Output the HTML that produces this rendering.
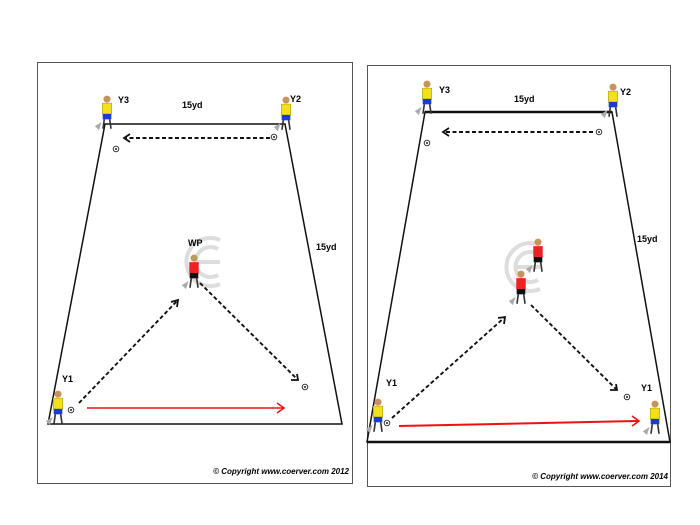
<!DOCTYPE html>
<html><head><style>
html,body{margin:0;padding:0;background:#fff;width:700px;height:525px;overflow:hidden}
svg text{font-family:"Liberation Sans",sans-serif;font-weight:bold}
</style></head><body>
<svg width="700" height="525" viewBox="0 0 700 525" xmlns="http://www.w3.org/2000/svg">
<defs>
<g id="yp0">
 <circle cx="0" cy="-14" r="2.6" fill="#c8935a"/>
 <rect x="-3.5" y="-11" width="7" height="8" fill="#f2e01a" stroke="#a89a10" stroke-width="0.4"/>
 <rect x="-3.2" y="-3" width="6.4" height="4" fill="#1a3bd6"/>
 <line x1="-2" y1="1" x2="-3" y2="8" stroke="#333" stroke-width="1.2"/>
 <line x1="2" y1="1" x2="3" y2="8" stroke="#333" stroke-width="1.2"/>
 <path d="M-4 3 L-9 6 L-6 9 Z" fill="#aaa"/>
</g>
<g id="yp"><use href="#yp0" transform="scale(1.35)"/></g>
<g id="rp0">
 <circle cx="0" cy="-14" r="2.6" fill="#c8935a"/>
 <rect x="-3.5" y="-11" width="7" height="8" fill="#e22" />
 <rect x="-3.2" y="-3" width="6.4" height="4" fill="#111"/>
 <line x1="-2" y1="1" x2="-3" y2="8" stroke="#333" stroke-width="1.2"/>
 <line x1="2" y1="1" x2="3" y2="8" stroke="#333" stroke-width="1.2"/>
 <path d="M-4 3 L-9 6 L-6 9 Z" fill="#aaa"/>
</g>
<g id="rp"><use href="#rp0" transform="scale(1.35)"/></g>
<g id="ball"><circle r="2.8" fill="#fff" stroke="#222" stroke-width="0.9"/><circle r="1" fill="#222"/></g>
<g id="logo" fill="none" stroke="#ddd" stroke-width="4">
 <path d="M20 -22 A24 24 0 1 0 20 22"/>
 <path d="M18 -13 A15 15 0 1 0 18 13"/>
 <line x1="-5" y1="0" x2="20" y2="0"/>
</g>
</defs>

<!-- LEFT PANEL -->
<rect x="37.5" y="62.5" width="315" height="421" fill="#fff" stroke="#555" stroke-width="1"/>
<polygon points="105,124 285,124 342,424 48,424" fill="none" stroke="#111" stroke-width="1.5"/>
<use href="#logo" transform="translate(200,262)"/>
<g font-size="9" style="font-stretch:condensed">
<text x="118" y="103" font-size="9">Y3</text>
<text x="290" y="102" font-size="9">Y2</text>
<text x="182" y="108" font-size="9">15yd</text>
<text x="316" y="250" font-size="9">15yd</text>
<text x="188" y="246" font-size="9">WP</text>
<text x="62" y="382" font-size="9">Y1</text>
</g>
<use href="#yp" transform="translate(107,118)"/>
<use href="#yp" transform="translate(286,119)"/>
<use href="#yp" transform="translate(58,413)"/>
<use href="#rp" transform="translate(194,277)"/>
<line x1="270" y1="138" x2="126" y2="138" stroke="#111" stroke-width="2" stroke-dasharray="4,2.5"/>
<path d="M130 134 L124 138 L130 142" fill="none" stroke="#111" stroke-width="1.8"/>
<use href="#ball" transform="translate(116,149)"/>
<use href="#ball" transform="translate(274,137)"/>
<line x1="79" y1="403" x2="177" y2="301" stroke="#111" stroke-width="1.9" stroke-dasharray="4,2.5"/>
<path d="M171 302 L178 300 L177 307" fill="none" stroke="#111" stroke-width="1.8"/>
<line x1="200" y1="283" x2="297" y2="379" stroke="#111" stroke-width="1.9" stroke-dasharray="4,2.5"/>
<path d="M291 380 L298 380 L297 374" fill="none" stroke="#111" stroke-width="1.8"/>
<use href="#ball" transform="translate(305,387)"/>
<use href="#ball" transform="translate(71,410)"/>
<line x1="87" y1="408" x2="283" y2="408" stroke="#e11" stroke-width="1.5"/>
<path d="M277 403 L284 408 L277 413" fill="none" stroke="#e11" stroke-width="1.5"/>
<text x="349" y="474" font-size="8" text-anchor="end" font-style="italic">© Copyright www.coerver.com 2012</text>

<!-- RIGHT PANEL -->
<rect x="367.5" y="65.5" width="303" height="421" fill="#fff" stroke="#555" stroke-width="1"/>
<polygon points="425,112 612,112 670,442 367,442" fill="none" stroke="#111" stroke-width="1.5"/>
<line x1="425" y1="112" x2="612" y2="112" stroke="#111" stroke-width="2.5"/>
<line x1="367" y1="442" x2="670" y2="442" stroke="#111" stroke-width="2.5"/>
<use href="#logo" transform="translate(520,267)"/>
<text x="439" y="93" font-size="9">Y3</text>
<text x="620" y="95" font-size="9">Y2</text>
<text x="514" y="102" font-size="9">15yd</text>
<text x="637" y="242" font-size="9">15yd</text>
<text x="386" y="386" font-size="9">Y1</text>
<text x="641" y="391" font-size="9">Y1</text>
<use href="#yp" transform="translate(427,103)"/>
<use href="#yp" transform="translate(613,106)"/>
<use href="#yp" transform="translate(378,421)"/>
<use href="#yp" transform="translate(655,423)"/>
<use href="#rp" transform="translate(538,261)"/>
<use href="#rp" transform="translate(521,293)"/>
<line x1="593" y1="132" x2="445" y2="132" stroke="#111" stroke-width="2" stroke-dasharray="4,2.5"/>
<path d="M449 128 L443 132 L449 136" fill="none" stroke="#111" stroke-width="1.8"/>
<use href="#ball" transform="translate(427,143)"/>
<use href="#ball" transform="translate(599,132)"/>
<line x1="392" y1="418" x2="504" y2="318" stroke="#111" stroke-width="1.9" stroke-dasharray="4,2.5"/>
<path d="M498 318 L505 317 L504 324" fill="none" stroke="#111" stroke-width="1.8"/>
<line x1="531" y1="305" x2="616" y2="389" stroke="#111" stroke-width="1.9" stroke-dasharray="4,2.5"/>
<path d="M610 390 L617 390 L616 384" fill="none" stroke="#111" stroke-width="1.8"/>
<use href="#ball" transform="translate(627,397)"/>
<use href="#ball" transform="translate(387,423)"/>
<line x1="399" y1="426" x2="638" y2="421" stroke="#e11" stroke-width="2"/>
<path d="M632 416 L639 421 L632 426" fill="none" stroke="#e11" stroke-width="1.6"/>
<text x="668" y="479" font-size="8" text-anchor="end" font-style="italic">© Copyright www.coerver.com 2014</text>
</svg>
</body></html>
